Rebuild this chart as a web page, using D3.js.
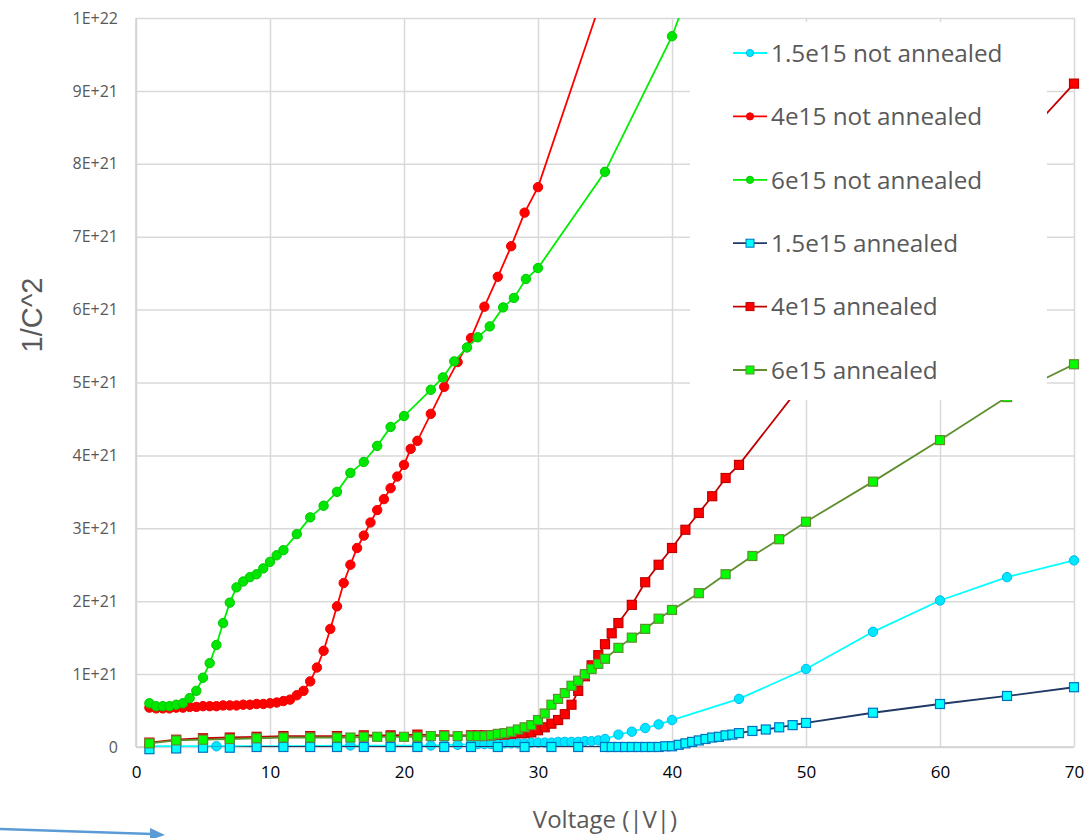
<!DOCTYPE html>
<html lang="en">
<head>
<meta charset="UTF-8">
<title>1/C^2 vs Voltage</title>
<script src="https://cdnjs.cloudflare.com/ajax/libs/d3/7.8.5/d3.min.js"></script>
<style>
    * { margin: 0; padding: 0; box-sizing: border-box; }
    body { background: #fff; width: 1087px; height: 838px; overflow: hidden; }
    svg { display: block; font-family: 'Open Sans', 'Noto Sans', sans-serif; }
    .ylab text { font-size: 16px; fill: #595959; }
    .xlab text { font-size: 17px; fill: #000; }
</style>
</head>
<body>
<div id="chart"></div>
<script>
// values of 1/C^2 are in units of 1E+21
const naLowV = [1, 6, 11, 16, 21, 22, 23, 24, 25, 25.5, 26, 26.5, 27, 27.5, 28, 28.5, 29, 29.5, 30, 30.5, 31, 31.5, 32, 32.5, 33, 33.5, 34, 34.5, 35, 36, 37, 38, 39, 40, 45, 50, 55, 60, 65, 70];
const naLowY = [0.01, 0.01, 0.01, 0.02, 0.02, 0.02, 0.03, 0.03, 0.04, 0.04, 0.04, 0.04, 0.05, 0.05, 0.05, 0.05, 0.05, 0.06, 0.06, 0.06, 0.06, 0.07, 0.07, 0.07, 0.07, 0.08, 0.08, 0.09, 0.11, 0.17, 0.21, 0.26, 0.31, 0.37, 0.66, 1.07, 1.58, 2.01, 2.33, 2.56];

const naMidV = [1, 1.5, 2, 2.5, 3, 3.5, 4, 4.5, 5, 5.5, 6, 6.5, 7, 7.5, 8, 8.5, 9, 9.5, 10, 10.5, 11, 11.5, 12, 12.5, 13, 13.5, 14, 14.5, 15, 15.5, 16, 16.5, 17, 17.5, 18, 18.5, 19, 19.5, 20, 20.5, 21, 22, 23, 24, 25, 26, 27, 28, 29, 30, 35];
const naMidY = [0.54, 0.53, 0.53, 0.53, 0.54, 0.54, 0.55, 0.55, 0.56, 0.56, 0.56, 0.57, 0.57, 0.57, 0.58, 0.58, 0.59, 0.59, 0.60, 0.61, 0.63, 0.65, 0.71, 0.77, 0.90, 1.09, 1.32, 1.62, 1.93, 2.25, 2.50, 2.73, 2.90, 3.08, 3.25, 3.40, 3.55, 3.71, 3.87, 4.09, 4.20, 4.57, 4.94, 5.28, 5.61, 6.04, 6.45, 6.87, 7.33, 7.68, 10.4];

const naHighV = [1, 1.5, 2, 2.5, 3, 3.5, 4, 4.5, 5, 5.5, 6, 6.5, 7, 7.5, 8, 8.5, 9, 9.5, 10, 10.5, 11, 12, 13, 14, 15, 16, 17, 18, 19, 20, 22, 22.9, 23.75, 24.7, 25.5, 26.4, 27.4, 28.2, 29.1, 30, 35, 40, 45];
const naHighY = [0.60, 0.56, 0.56, 0.56, 0.58, 0.60, 0.67, 0.77, 0.95, 1.15, 1.40, 1.70, 1.98, 2.19, 2.27, 2.33, 2.37, 2.45, 2.54, 2.63, 2.70, 2.92, 3.15, 3.31, 3.50, 3.76, 3.91, 4.13, 4.39, 4.54, 4.90, 5.07, 5.29, 5.48, 5.62, 5.77, 6.03, 6.16, 6.42, 6.57, 7.89, 9.75, 12.2];

const anLowV = [1, 3, 5, 7, 9, 11, 13, 15, 17, 19, 21, 23, 25, 27, 29, 31, 33, 35, 35.5, 36, 36.5, 37, 37.5, 38, 38.5, 39, 39.5, 40, 40.5, 41, 41.5, 42, 42.5, 43, 43.5, 44, 44.5, 45, 46, 47, 48, 49, 50, 55, 60, 65, 70];
const anLowY = [-0.03, -0.02, -0.01, -0.01, 0, 0, 0, 0, 0, 0, 0, 0, 0, 0, 0, 0, 0, 0, 0, 0, 0, 0, 0, 0, 0, 0, 0.01, 0.01, 0.03, 0.05, 0.07, 0.09, 0.11, 0.13, 0.14, 0.16, 0.17, 0.19, 0.22, 0.24, 0.27, 0.30, 0.33, 0.47, 0.59, 0.70, 0.82];

const anMidV = [1, 3, 5, 7, 9, 11, 13, 15, 17, 19, 21, 23, 25, 25.5, 26, 26.5, 27, 27.5, 28, 28.5, 29, 29.5, 30, 30.5, 31, 31.5, 32, 32.5, 33, 33.5, 34, 34.5, 35, 35.5, 36, 37, 38, 39, 40, 41, 42, 43, 44, 45, 50, 55, 60, 65, 70];
const anMidY = [0.06, 0.10, 0.12, 0.13, 0.14, 0.15, 0.15, 0.15, 0.16, 0.16, 0.17, 0.16, 0.16, 0.16, 0.16, 0.16, 0.17, 0.17, 0.18, 0.19, 0.19, 0.20, 0.23, 0.27, 0.32, 0.37, 0.45, 0.58, 0.77, 0.97, 1.12, 1.26, 1.41, 1.56, 1.70, 1.95, 2.26, 2.50, 2.73, 2.98, 3.21, 3.44, 3.69, 3.87, 5.05, 6.05, 7.05, 8.10, 9.10];

const anHighV = [1, 3, 5, 7, 9, 11, 13, 15, 16, 17, 18, 19, 20, 21, 22, 23, 24, 25, 25.5, 26, 26.5, 27, 27.5, 28, 28.5, 29, 29.5, 30, 30.5, 31, 31.5, 32, 32.5, 33, 33.5, 34, 34.5, 35, 36, 37, 38, 39, 40, 42, 44, 46, 48, 50, 55, 60, 65, 70];
const anHighY = [0.05, 0.09, 0.10, 0.11, 0.12, 0.13, 0.13, 0.13, 0.13, 0.14, 0.14, 0.14, 0.14, 0.14, 0.15, 0.15, 0.15, 0.15, 0.15, 0.15, 0.16, 0.18, 0.19, 0.21, 0.24, 0.27, 0.30, 0.37, 0.46, 0.58, 0.66, 0.74, 0.84, 0.91, 1.00, 1.07, 1.14, 1.21, 1.36, 1.50, 1.62, 1.76, 1.88, 2.11, 2.37, 2.62, 2.85, 3.09, 3.64, 4.21, 4.80, 5.25];

const seriesNames = ['1.5e15 not annealed', '4e15 not annealed', '6e15 not annealed',
                     '1.5e15 annealed', '4e15 annealed', '6e15 annealed'];
const xTicks = [0, 10, 20, 30, 40, 50, 60, 70];
const yTicks = [0, 1, 2, 3, 4, 5, 6, 7, 8, 9, 10];
const yTickLabels = ['0', '1E+21', '2E+21', '3E+21', '4E+21', '5E+21', '6E+21', '7E+21', '8E+21', '9E+21', '1E+22'];

// styles for each series
const styles = [
    { shape: 'circle', line: '#00ffff', fill: '#00e8ff', stroke: '#00b8f0' },
    { shape: 'circle', line: '#ff0000', fill: '#ff0000', stroke: '#f00000' },
    { shape: 'circle', line: '#00ee00', fill: '#00e600', stroke: '#00c800' },
    { shape: 'square', line: '#1f3864', fill: '#00ffff', stroke: '#0070c0' },
    { shape: 'square', line: '#c00000', fill: '#ff0000', stroke: '#c00000' },
    { shape: 'square', line: '#5e8f2e', fill: '#00ff00', stroke: '#5e8f2e' }
];

const series = [
    [naLowV, naLowY], [naMidV, naMidY], [naHighV, naHighY],
    [anLowV, anLowY], [anMidV, anMidY], [anHighV, anHighY]
].map((s, i) => ({
    name: seriesNames[i],
    style: styles[i],
    points: s[0].map((v, j) => ({ v: v, c: s[1][j] }))
}));

const W = 1087, H = 838;
const plotL = 136, plotR = 1074, plotT = 18, plotB = 747;

const svg = d3.select('#chart').append('svg')
    .attr('width', W)
    .attr('height', H);

const x = d3.scaleLinear().domain([0, 70]).range([plotL, plotR]);
const y = d3.scaleLinear().domain([0, 10]).range([plotB, plotT]);

// gridlines
svg.append('g')
    .attr('transform', `translate(0,${plotB})`)
    .call(d3.axisBottom(x).tickValues(xTicks).tickSize(-(plotB - plotT)).tickFormat(''))
    .call(g => g.select('.domain').remove())
    .call(g => g.selectAll('line').attr('stroke', '#d9d9d9').attr('stroke-width', 1.5));

svg.append('g')
    .attr('transform', `translate(${plotL},0)`)
    .call(d3.axisLeft(y).tickValues(yTicks).tickSize(-(plotR - plotL)).tickFormat(''))
    .call(g => g.select('.domain').remove())
    .call(g => g.selectAll('line').attr('stroke', '#d9d9d9').attr('stroke-width', 1.5));

// axis lines
svg.append('line')
    .attr('x1', plotL).attr('x2', plotL).attr('y1', plotT).attr('y2', plotB)
    .attr('stroke', '#d0d0d0').attr('stroke-width', 1.5);
svg.append('line')
    .attr('x1', plotL).attr('x2', plotR).attr('y1', plotB).attr('y2', plotB)
    .attr('stroke', '#d0d0d0').attr('stroke-width', 1.5);

// tick labels
svg.append('g')
    .attr('class', 'ylab')
    .attr('transform', `translate(${plotL},0)`)
    .call(d3.axisLeft(y).tickValues(yTicks).tickSize(0).tickPadding(18)
        .tickFormat((d, i) => yTickLabels[i]))
    .attr('font-family', null)
    .attr('font-size', null)
    .call(g => g.select('.domain').remove());

svg.append('g')
    .attr('class', 'xlab')
    .attr('transform', `translate(0,${plotB})`)
    .call(d3.axisBottom(x).tickValues(xTicks).tickSize(0).tickPadding(19))
    .attr('font-family', null)
    .attr('font-size', null)
    .call(g => g.select('.domain').remove());

// axis titles
svg.append('text')
    .attr('x', 605).attr('y', 828)
    .attr('text-anchor', 'middle')
    .attr('fill', '#595959')
    .style('font-size', '24px')
    .text('Voltage (|V|)');

svg.append('text')
    .attr('transform', 'translate(42,315) rotate(-90)')
    .attr('text-anchor', 'middle')
    .attr('fill', '#595959')
    .style('font-size', '29px')
    .style('font-family', "'Liberation Sans', Arial, sans-serif")
    .text('1/C^2');

// clip
svg.append('clipPath').attr('id', 'plotClip')
    .append('rect')
    .attr('x', plotL).attr('y', plotT)
    .attr('width', plotR - plotL).attr('height', plotB - plotT);
svg.append('clipPath').attr('id', 'markerClip')
    .append('rect')
    .attr('x', plotL - 8).attr('y', plotT)
    .attr('width', plotR - plotL + 16).attr('height', plotB - plotT + 10);

const line = d3.line().x(d => x(d.v)).y(d => y(d.c));

const plot = svg.append('g');

series.forEach(s => {
    const g = plot.append('g');
    g.append('path')
        .datum(s.points)
        .attr('clip-path', 'url(#plotClip)')
        .attr('fill', 'none')
        .attr('stroke', s.style.line)
        .attr('stroke-width', 1.8)
        .attr('d', line);

    const mg = g.append('g').attr('clip-path', 'url(#markerClip)');
    const pts = s.points.filter(d => d.c <= 10);
    if (s.style.shape === 'circle') {
        mg.selectAll('circle')
            .data(pts)
            .enter()
            .append('circle')
            .attr('cx', d => x(d.v))
            .attr('cy', d => y(d.c))
            .attr('r', 4.7)
            .attr('fill', s.style.fill)
            .attr('stroke', s.style.stroke)
            .attr('stroke-width', 1);
    } else {
        mg.selectAll('rect')
            .data(pts)
            .enter()
            .append('rect')
            .attr('x', d => x(d.v) - 4.5)
            .attr('y', d => y(d.c) - 4.5)
            .attr('width', 9)
            .attr('height', 9)
            .attr('fill', s.style.fill)
            .attr('stroke', s.style.stroke)
            .attr('stroke-width', 1.2);
    }
});

// legend (white box over the plot)
const legend = svg.append('g');
legend.append('rect')
    .attr('x', 690).attr('y', 22)
    .attr('width', 357).attr('height', 378)
    .attr('fill', '#fff');

series.forEach((s, i) => {
    const ly = 53 + i * 63.4;
    const item = legend.append('g').attr('transform', `translate(750,${ly})`);
    item.append('line')
        .attr('x1', -17).attr('x2', 17)
        .attr('stroke', s.style.line)
        .attr('stroke-width', 1.8);
    if (s.style.shape === 'circle') {
        item.append('circle')
            .attr('r', 3.6)
            .attr('fill', s.style.fill)
            .attr('stroke', s.style.stroke);
    } else {
        item.append('rect')
            .attr('x', -4).attr('y', -4)
            .attr('width', 8).attr('height', 8)
            .attr('fill', s.style.fill)
            .attr('stroke', s.style.stroke);
    }
    item.append('text')
        .attr('x', 21)
        .attr('dy', '0.36em')
        .attr('fill', '#595959')
        .style('font-size', '24.3px')
        .text(s.name);
});

// stray arrow at the bottom left
svg.append('line')
    .attr('x1', 0).attr('y1', 829)
    .attr('x2', 152).attr('y2', 834)
    .attr('stroke', '#5b9bd5')
    .attr('stroke-width', 2.5);
svg.append('path')
    .attr('d', 'M150,828 L165,835 L150,840 Z')
    .attr('fill', '#5b9bd5');
</script>
</body>
</html>
